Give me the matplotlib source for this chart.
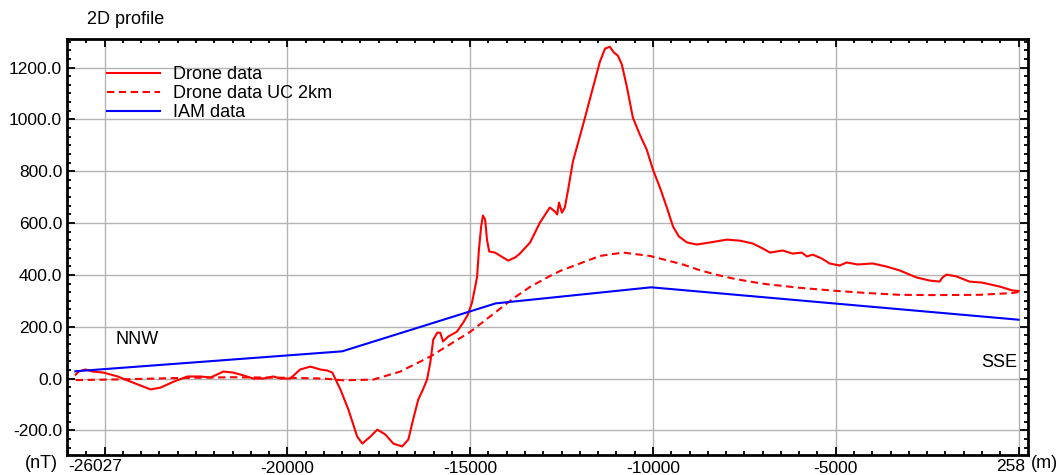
import numpy as np
import matplotlib
matplotlib.use("Agg")
from matplotlib import pyplot as plt
from matplotlib.ticker import MultipleLocator

plt.rcParams['font.family'] = ['Liberation Sans', 'DejaVu Sans']

# profile distance (m) and total field anomaly (nT)
drone_x = [-25790, -25710, -25520, -25330, -25030, -24640, -24290, -23740, -23470,
           -23110, -22730, -22380, -22100, -21750, -21480, -21200, -20930, -20660,
           -20380, -20190, -19920, -19650, -19370, -19100, -18910, -18770, -18550,
           -18330, -18090, -17950, -17730, -17540, -17320, -17100, -16860, -16690,
           -16560, -16420, -16290, -16180, -16090, -16010, -15900, -15820, -15740,
           -15600, -15360, -15190, -15060, -14950, -14860, -14810, -14760, -14700,
           -14650, -14590, -14540, -14480, -14320, -14100, -13960, -13770, -13640,
           -13360, -13090, -12820, -12680, -12620, -12570, -12490, -12410, -12320,
           -12190, -11910, -11640, -11450, -11310, -11180, -11070, -10960, -10850,
           -10710, -10550, -10360, -10170, -10000, -9810, -9620, -9450, -9290, -9070,
           -8800, -8440, -7980, -7620, -7270, -7000, -6800, -6450, -6180, -5930,
           -5790, -5630, -5380, -5170, -4890, -4700, -4400, -3990, -3610, -3250,
           -2790, -2430, -2160, -2080, -1970, -1700, -1340, -990, -520, -170, 0]
drone_y = [15, 27, 35, 27, 23, 8, -12, -42, -35,
           -12, 8, 8, 4, 27, 23, 12, 0, 0,
           8, 0, 0, 35, 46, 35, 31, 23, -42,
           -120, -224, -251, -224, -197, -216, -251, -262, -235,
           -158, -81, -42, -4, 62, 150, 177, 177, 143,
           162, 181, 216, 247, 293, 355, 394, 498, 586,
           629, 613, 536, 490, 486, 467, 455, 467, 482,
           525, 602, 660, 644, 633, 679, 640, 660, 729,
           837, 980, 1123, 1223, 1273, 1280, 1258, 1246, 1211,
           1123, 1007, 941, 883, 806, 737, 660, 586, 548, 525,
           517, 525, 536, 532, 521, 502, 486, 494, 482, 486,
           471, 478, 463, 444, 436, 448, 440, 444, 432, 417,
           390, 378, 374, 390, 401, 394, 374, 370, 355, 340, 338]

uc_x = [-25790, -24500, -23000, -21500, -20000, -19000, -18470, -17650, -16910,
        -16090, -15000, -13830, -13360, -12810, -12540, -11450, -10820, -10080,
        -9180, -8720, -8250, -7810, -7350, -6890, -5980, -4970, -4150, -3250,
        -2350, -1070, -160, 0]
uc_y = [-6, -3, 2, 5, 3, 0, -7, -4, 27,
        85, 180, 308, 354, 396, 415, 473, 486, 473,
        440, 418, 400, 386, 374, 364, 350, 338, 330, 323,
        322, 323, 330, 334]

iam_x = [-25800, -18500, -14300, -10050, 0]
iam_y = [28, 105, 290, 352, 227]

x_ticks = [-25000, -20000, -15000, -10000, -5000, 0]
x_labels = ['', '-20000', '-15000', '-10000', '-5000', '']
x_start, x_end = -26027, 258
y_ticks = [-200, 0, 200, 400, 600, 800, 1000, 1200]

fig = plt.figure(figsize=(10.59, 4.75), dpi=100)
ax = fig.add_axes([0.0633, 0.0421, 0.9074, 0.8758])

ax.plot(drone_x, drone_y, color='#ff0000', lw=1.5, label='Drone data')
ax.plot(uc_x, uc_y, color='#ff0000', lw=1.5, dashes=(3.5, 2.2), label='Drone data UC 2km')
ax.plot(iam_x, iam_y, color='#0000ff', lw=1.5, label='IAM data')

ax.set_xlim(x_start, x_end)
ax.set_ylim(-295, 1310)
ax.set_xticks(x_ticks)
ax.set_xticklabels(x_labels)
ax.set_yticks(y_ticks)
ax.set_yticklabels(['%.1f' % v for v in y_ticks])
ax.xaxis.set_minor_locator(MultipleLocator(500))
ax.yaxis.set_minor_locator(MultipleLocator(200 / 6))
ax.grid(True, which='major', color='#b4b4b4', lw=1)
ax.set_axisbelow(True)
ax.tick_params(which='both', direction='in', top=True, right=True, labelsize=12.5,
               color='black', width=1.3)
ax.tick_params(which='major', length=6)
ax.tick_params(which='minor', length=3)
ax.tick_params(axis='x', pad=4)
for s in ax.spines.values():
    s.set_linewidth(2)

# end-of-profile labels sit on the axis edges
ax.text(0.001, -0.01, str(x_start), transform=ax.transAxes, ha='left', va='top', fontsize=12.5)
ax.text(0.997, -0.01, str(x_end), transform=ax.transAxes, ha='right', va='top', fontsize=12.5)

fig.text(25 / 1059, 1 - 463 / 475, '(nT)', ha='left', va='center', fontsize=13)
fig.text(1031 / 1059, 1 - 464 / 475, '(m)', ha='left', va='center', fontsize=13)
fig.text(87 / 1059, 1 - 20 / 475, '2D profile', ha='left', va='center', fontsize=13)
ax.text(-24700, 150, 'NNW', ha='left', va='center', fontsize=13)
ax.text(x_end - 300, 60, 'SSE', ha='right', va='center', fontsize=13)

ax.legend(loc='upper left', bbox_to_anchor=(107 / 1059, 1 - 66 / 475),
          bbox_transform=fig.transFigure, frameon=False, fontsize=13,
          borderpad=0, borderaxespad=0, labelspacing=0.12, handlelength=2.95,
          handletextpad=0.72)

fig.savefig('out.png', dpi=100)
